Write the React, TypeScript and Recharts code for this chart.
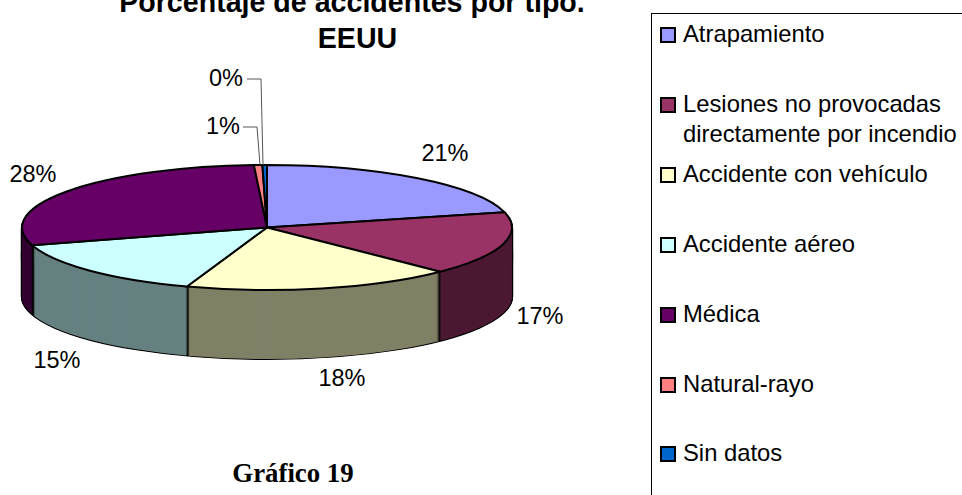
import { PieChart, Pie } from "recharts"

const categories = [
  "Atrapamiento",
  "Lesiones no provocadas\ndirectamente por incendio",
  "Accidente con vehículo",
  "Accidente aéreo",
  "Médica",
  "Natural-rayo",
  "Sin datos",
]
const values = [21.1, 16.4, 17.8, 15.1, 28.75, 0.55, 0.3]
const percentLabels = ["21%", "17%", "18%", "15%", "28%", "1%", "0%"]
const topColors = ["#9999FF", "#993366", "#FFFFCC", "#CCFFFF", "#660066", "#FF8080", "#0066CC"]
const sideColors = ["#4C4C80", "#4C1933", "#808066", "#668080", "#330033", "#804040", "#003366"]

// width of the dark edge drawn after each slice on the side wall, in value units
const sideEdges = [0, 0.16, 0.13, 0.5, 0, 0, 0]

const LABEL_POS = [
  [445, 161],
  [540, 324],
  [342, 386],
  [57, 368],
  [33, 182],
  [223, 134],
  [226, 86],
]
const LEGEND_Y = [35, 105, 175, 245, 315, 385, 454]

const CX = 267
const CY = 227.5
const RADIUS = 245
const SQUASH = 0.255
const DEPTH = 69
const FONT = "'Liberation Sans', Arial, sans-serif"

const topData = values.map((value, i) => ({ name: categories[i], value, fill: topColors[i] }))
// the edge sits centred on the slice boundary, half taken from each neighbour
const sideData = values.flatMap((value, i) => {
  const before = i > 0 ? sideEdges[i - 1] / 2 : 0
  const slice = { name: categories[i], value: value - sideEdges[i] / 2 - before, fill: sideColors[i] }
  return sideEdges[i] > 0 ? [slice, { name: "edge", value: sideEdges[i], fill: "#000" }] : [slice]
})
const outlineData = [{ name: "outline", value: 1, fill: "#000" }]
const depths = Array.from({ length: DEPTH }, (_, i) => DEPTH - i)

const css = `
  .recharts-pie { transform: scaleY(${SQUASH}); transform-origin: 0 0; }
  .recharts-pie path { vector-effect: non-scaling-stroke; }
`

function Slices({ data, depth, radius, stroke }: { data: any[]; depth: number; radius: number; stroke?: string }) {
  return (
    <Pie
      data={data}
      dataKey="value"
      cx={CX}
      cy={(CY + depth) / SQUASH}
      innerRadius={0}
      outerRadius={radius}
      startAngle={90}
      endAngle={-270}
      stroke={stroke ?? "none"}
      strokeWidth={stroke ? 2 : 0}
      isAnimationActive={false}
      labelLine={false}
      legendType="none"
      tooltipType="none"
      rootTabIndex={-1}
    />
  )
}

export default function App() {
  return (
    <div style={{ position: "absolute", left: 0, top: 0, width: 962, height: 495, overflow: "hidden", background: "#fff" }}>
      <style>{css}</style>
      <div style={{ position: "absolute", left: 0, top: 0 }}>
        <PieChart width={962} height={495} margin={{ top: 0, right: 0, bottom: 0, left: 0 }}>
          {depths.map((d) => Slices({ data: outlineData, depth: d, radius: RADIUS + 1.2 }))}
          {Slices({ data: outlineData, depth: DEPTH, radius: RADIUS, stroke: "#000" })}
          {depths.map((d) => Slices({ data: sideData, depth: d, radius: RADIUS }))}
          {Slices({ data: topData, depth: 0, radius: RADIUS, stroke: "#000" })}
        </PieChart>
      </div>

      <svg width={962} height={495} style={{ position: "absolute", left: 0, top: 0 }}>
        <g fontFamily={FONT} fontWeight="bold" fontSize={28.6} textAnchor="middle" fill="#000">
          <text x={352} y={12}>Porcentaje de accidentes por tipo.</text>
          <text x={357.5} y={48}>EEUU</text>
        </g>
        <path d="M247 79H261L263 165" fill="none" stroke="#555" />
        <path d="M243 127H257L260 165" fill="none" stroke="#555" />
        {percentLabels.map((label, i) => (
          <text key={label} x={LABEL_POS[i][0]} y={LABEL_POS[i][1]} textAnchor="middle" fontFamily={FONT} fontSize={23.5} fill="#000">
            {label}
          </text>
        ))}
        <text x={293} y={482} textAnchor="middle" fontFamily="'Liberation Serif', serif" fontWeight="bold" fontSize={26.8} fill="#000">
          Gráfico 19
        </text>

        <rect x={651.5} y={13.5} width={330} height={500} fill="none" stroke="#000" />
        {categories.map((cat, i) => {
          const lines = cat.split("\n")
          const y = LEGEND_Y[i]
          return (
            <g key={cat}>
              <rect x={661} y={y - 7} width={14} height={14} fill={topColors[i]} stroke="#000" strokeWidth={2} />
              {lines.map((line, j) => (
                <text key={line} x={683} y={y + 7 + j * 30} fontFamily={FONT} fontSize={23.8} fill="#000">
                  {line}
                </text>
              ))}
            </g>
          )
        })}
      </svg>
    </div>
  )
}
